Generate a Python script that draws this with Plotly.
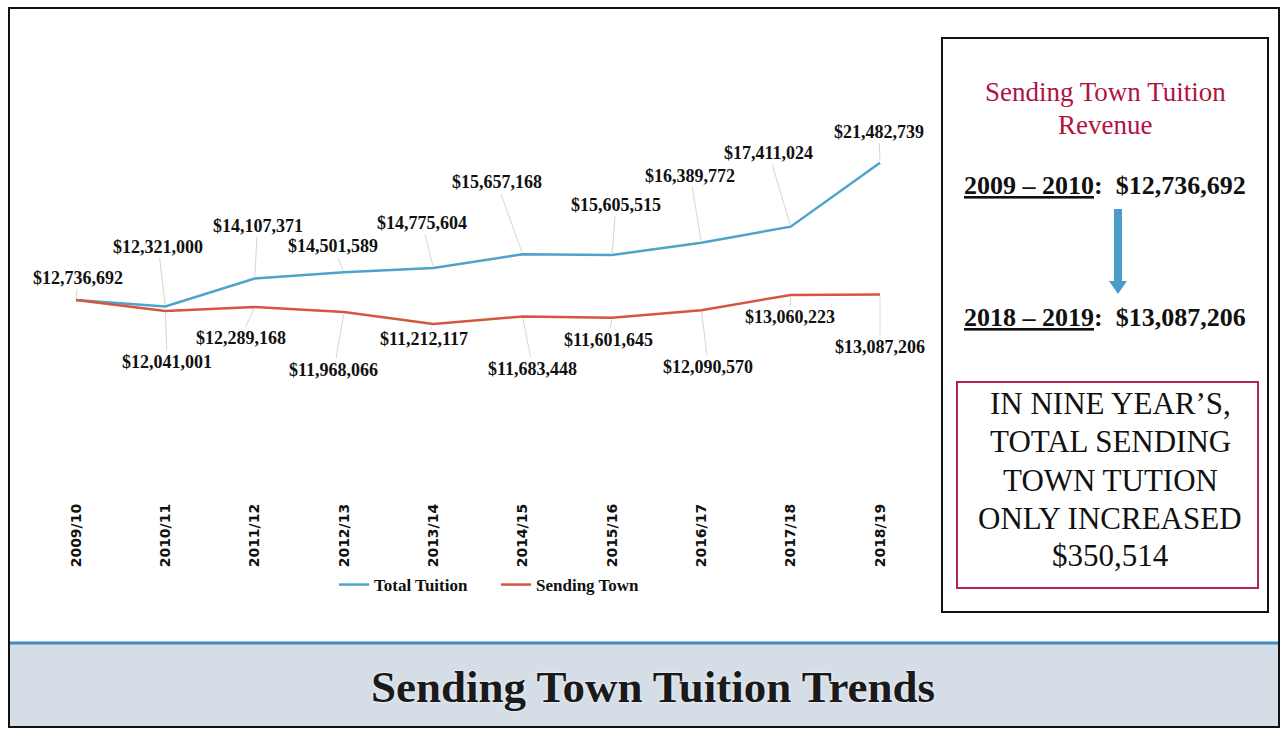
import plotly.graph_objects as go

# ---------------- data ----------------
years = ["2009/10", "2010/11", "2011/12", "2012/13", "2013/14",
         "2014/15", "2015/16", "2016/17", "2017/18", "2018/19"]
total_tuition = [12736692, 12321000, 14107371, 14501589, 14775604,
                 15657168, 15605515, 16389772, 17411024, 21482739]
sending_town = [12736692, 12041001, 12289168, 11968066, 11212117,
                11683448, 11601645, 12090570, 13060223, 13087206]

# label offsets (pixels) from each point
total_off = [(2, -22), (-7, -60), (3, -53), (-11, -26), (-11, -45),
             (-26, -72), (4, -50), (-11, -67), (-22, -74), (-1, -31)]
send_off = [None, (2, 51), (-14, 31), (-10, 58), (-9, 15),
            (10, 52), (-4, 22), (7, 57), (-1, 22), (0, 52)]

W, H = 1283, 730
def px(x): return x / W
def py(y): return 1 - y / H

BLUE = "#4ea3ca"
RED = "#d4563e"
CRIMSON = "#b3123f"

fig = go.Figure()
fig.add_trace(go.Scatter(x=years, y=total_tuition, mode="lines", name="Total Tuition",
                         line=dict(color=BLUE, width=2.5)))
fig.add_trace(go.Scatter(x=years, y=sending_town, mode="lines", name="Sending Town",
                         line=dict(color=RED, width=2.5)))

annotations = []
lab_font = dict(family="Liberation Serif", size=18, color="#111111", weight="bold")
for i, (yr, v) in enumerate(zip(years, total_tuition)):
    ax, ay = total_off[i]
    annotations.append(dict(x=yr, y=v, xref="x", yref="y", text=f"${v:,.0f}",
                            showarrow=True, arrowhead=0, arrowwidth=1, arrowcolor="#d6d6d6",
                            standoff=2, ax=ax, ay=ay, font=lab_font))
for i, (yr, v) in enumerate(zip(years, sending_town)):
    if send_off[i] is None:
        continue
    ax, ay = send_off[i]
    annotations.append(dict(x=yr, y=v, xref="x", yref="y", text=f"${v:,.0f}",
                            showarrow=True, arrowhead=0, arrowwidth=1, arrowcolor="#d6d6d6",
                            standoff=2, ax=ax, ay=ay, font=lab_font))

# right info box texts
box_font_title = dict(family="Liberation Serif", size=27, color=CRIMSON)
annotations.append(dict(x=px(1105), y=py(92), xref="paper", yref="paper", showarrow=False,
                        text="Sending Town Tuition", font=box_font_title,
                        xanchor="center", yanchor="middle"))
annotations.append(dict(x=px(1105), y=py(125), xref="paper", yref="paper", showarrow=False,
                        text="Revenue", font=box_font_title,
                        xanchor="center", yanchor="middle"))
yr_font = dict(family="Liberation Serif", size=26, color="#111111", weight="bold")
annotations.append(dict(x=px(1105), y=py(186), xref="paper", yref="paper", showarrow=False,
                        text="<u>2009 – 2010</u>:  $12,736,692", font=yr_font,
                        xanchor="center", yanchor="middle"))
annotations.append(dict(x=px(1105), y=py(317), xref="paper", yref="paper", showarrow=False,
                        text="<u>2018 – 2019</u>:  $13,087,206", font=yr_font,
                        xanchor="center", yanchor="middle"))
msg_font = dict(family="Liberation Serif", size=31, color="#111111")
for line, yy in zip(["IN NINE YEAR’S,", "TOTAL SENDING", "TOWN TUTION",
                     "ONLY INCREASED", "$350,514"], [403, 442, 480, 518, 555]):
    annotations.append(dict(x=px(1110), y=py(yy), xref="paper", yref="paper", showarrow=False,
                            text=line, font=msg_font, xanchor="center", yanchor="middle"))

# bottom title
annotations.append(dict(x=px(653), y=py(687), xref="paper", yref="paper", showarrow=False,
                        text="Sending Town Tuition Trends",
                        font=dict(family="Liberation Serif", size=45, color="#1a1a1a",
                                  weight="bold", shadow="0px 0px 3px #ffffff"),
                        xanchor="center", yanchor="middle"))

shapes = [
    # bottom band
    dict(type="rect", xref="paper", yref="paper", x0=px(9), x1=px(1279), y0=py(727), y1=py(644),
         fillcolor="#d5dde7", line=dict(width=0), layer="below"),
    dict(type="line", xref="paper", yref="paper", x0=px(9), x1=px(1279), y0=py(643), y1=py(643),
         line=dict(color="#3b8fc0", width=3)),
    # outer frame
    dict(type="rect", xref="paper", yref="paper", x0=px(9), x1=px(1279), y0=py(727), y1=py(8),
         line=dict(color="#111111", width=2)),
    # right box
    dict(type="rect", xref="paper", yref="paper", x0=px(942), x1=px(1268), y0=py(612), y1=py(38),
         line=dict(color="#111111", width=2)),
    # red inner box
    dict(type="rect", xref="paper", yref="paper", x0=px(957), x1=px(1258), y0=py(588), y1=py(382),
         line=dict(color="#b0244f", width=2)),
    # arrow shaft
    dict(type="rect", xref="paper", yref="paper", x0=px(1114), x1=px(1122), y0=py(282), y1=py(209),
         fillcolor="#4a9cc8", line=dict(width=0)),
    # arrow head
    dict(type="path", xref="paper", yref="paper",
         path=f"M {px(1109)} {py(281)} L {px(1127)} {py(281)} L {px(1118)} {py(294)} Z",
         fillcolor="#4a9cc8", line=dict(width=0)),
]

fig.update_layout(
    width=W, height=H, autosize=False,
    margin=dict(l=0, r=0, t=0, b=0),
    paper_bgcolor="white", plot_bgcolor="white",
    xaxis=dict(type="category", domain=[px(31.3), px(924.7)], range=[-0.5, 9.5],
               showgrid=False, zeroline=False, showline=False, ticks="",
               tickangle=-90, tickfont=dict(family="DejaVu Sans", size=14, color="#111111",
                                            weight="bold")),
    yaxis=dict(domain=[py(500), py(107.5)], range=[0, 25e6], visible=False,
               showgrid=False, zeroline=False),
    showlegend=True,
    legend=dict(orientation="h", x=px(334), y=py(585), xanchor="left", yanchor="middle",
                entrywidth=117, entrywidthmode="pixels", itemwidth=30,
                font=dict(family="Liberation Serif", size=17, color="#111111", weight="bold"),
                bgcolor="rgba(0,0,0,0)"),
    annotations=annotations,
    shapes=shapes,
)

fig.write_html("out.html", config={"displayModeBar": False},
               post_script="document.body.style.margin='0';document.body.style.overflow='hidden';")
